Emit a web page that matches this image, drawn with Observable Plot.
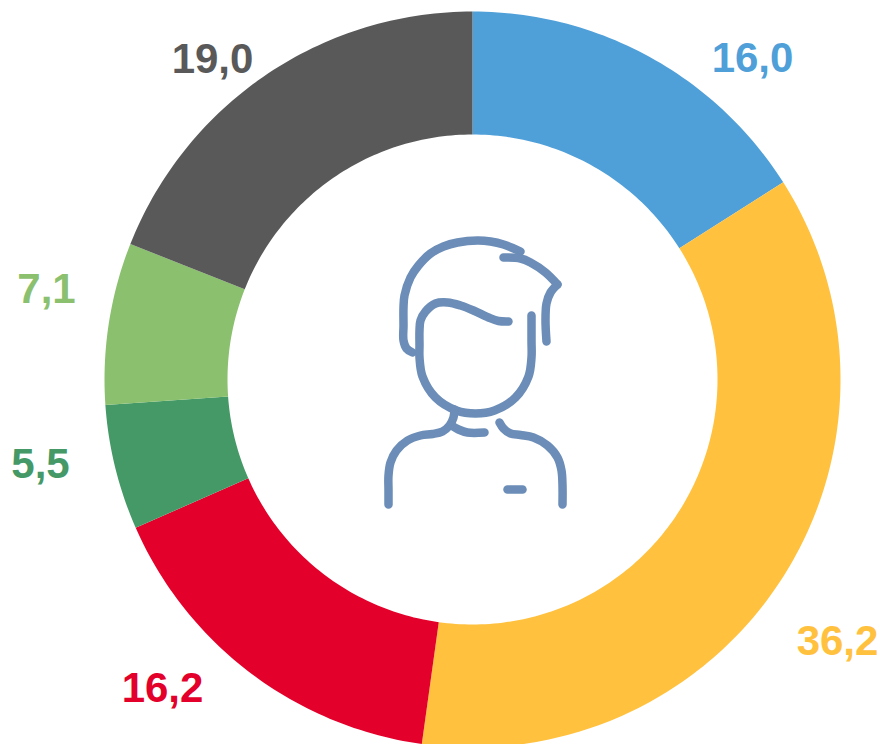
<!DOCTYPE html>
<html>
<head>
<meta charset="utf-8">
<script src="https://cdn.jsdelivr.net/npm/d3@7"></script>
<script src="https://cdn.jsdelivr.net/npm/@observablehq/plot@0.6"></script>
<style>html,body{margin:0;padding:0;background:#fff}svg{display:block}</style>
</head>
<body>
<div id="chart"></div>
<script>
const segments = ["a", "b", "c", "d", "e", "f"];
const shares = [16.0, 36.2, 16.2, 5.5, 7.1, 19.0];
const shareLabels = ["16,0", "36,2", "16,2", "5,5", "7,1", "19,0"];
const colors = ["#4f9fd9", "#ffc13e", "#e3002b", "#449966", "#8ac06e", "#595959"];

const cx = 472, cy = 379, rOuter = 368, rInner = 245;
const labelAnchors = [[752, 58], [837, 641], [162, 688], [40, 464], [46, 289], [212, 59]];

const arcs = d3.pie().sort(null)(shares);
const polar = (r, a) => ({x: cx + r * Math.sin(a), y: cy - r * Math.cos(a)});
const ring = arcs.flatMap((arc, i) => {
  const steps = Math.ceil((arc.endAngle - arc.startAngle) * 180 / Math.PI);
  const angles = d3.range(steps + 1).map(k => arc.startAngle + (arc.endAngle - arc.startAngle) * k / steps);
  return [
    ...angles.map(a => ({...polar(rOuter, a), segment: segments[i]})),
    ...angles.slice().reverse().map(a => ({...polar(rInner, a), segment: segments[i]}))
  ];
});
const labels = segments.map((segment, i) => ({
  segment, text: shareLabels[i], x: labelAnchors[i][0], y: labelAnchors[i][1]
}));

// Person icon, traced in chart coordinates
const iconStrokes = [
  [[412,352],[406,348],[403,340],[403,325],[403,307],[404,295],[410,277],[418,265],[430,253],[443,246],[457,242],[477,240],[490,241],[503,244],[520,251]],
  [[503,257],[520,258],[530,262],[545,272],[557,284]],
  [[557,284],[550,292],[546,303],[545,320],[546,341]],
  [[508,321],[498,320.5],[488,317],[473,310],[460,305],[447,302],[435,303],[425,311],[420,320],[419,330],[419,345],[419,357],[422,376],[435,397],[456,410],[475,413],[494,410],[515,397],[528,376],[531,357],[531,340],[531,315]],
  [[454,409],[453,417],[449,425],[442,431],[432,433.5],[420,435],[407,440],[396,450],[390,462],[388,475],[388,490],[388,504]],
  [[451,425],[458,429],[467,432],[484,432]],
  [[499,422],[503,428],[510,433],[520,434.5],[533,437],[547,445],[557,457],[561,470],[562,485],[562,504]],
  [[507,489],[522,489]]
];
const icon = iconStrokes.flatMap((s, i) => s.map(([x, y]) => ({x, y, stroke: i})));

const chart = Plot.plot({
  width: 884,
  height: 744,
  margin: 0,
  x: {domain: [0, 884], range: [0, 884], axis: null},
  y: {domain: [0, 744], range: [0, 744], axis: null},
  color: {type: "ordinal", domain: segments, range: colors},
  marks: [
    Plot.line(ring, {x: "x", y: "y", z: "segment", fill: "segment", stroke: null, curve: "linear-closed"}),
    Plot.line(icon, {x: "x", y: "y", z: "stroke", stroke: "#6b8db7", strokeWidth: 8.5, strokeOpacity: 1, strokeLinecap: "round", strokeLinejoin: "round", curve: "catmull-rom"}),
    Plot.text(labels, {
      x: "x", y: "y", text: "text", fill: "segment",
      fontSize: 42, fontWeight: 700, fontFamily: "Liberation Sans", textAnchor: "middle", lineAnchor: "middle"
    })
  ]
});
document.getElementById("chart").append(chart);
</script>
</body>
</html>
